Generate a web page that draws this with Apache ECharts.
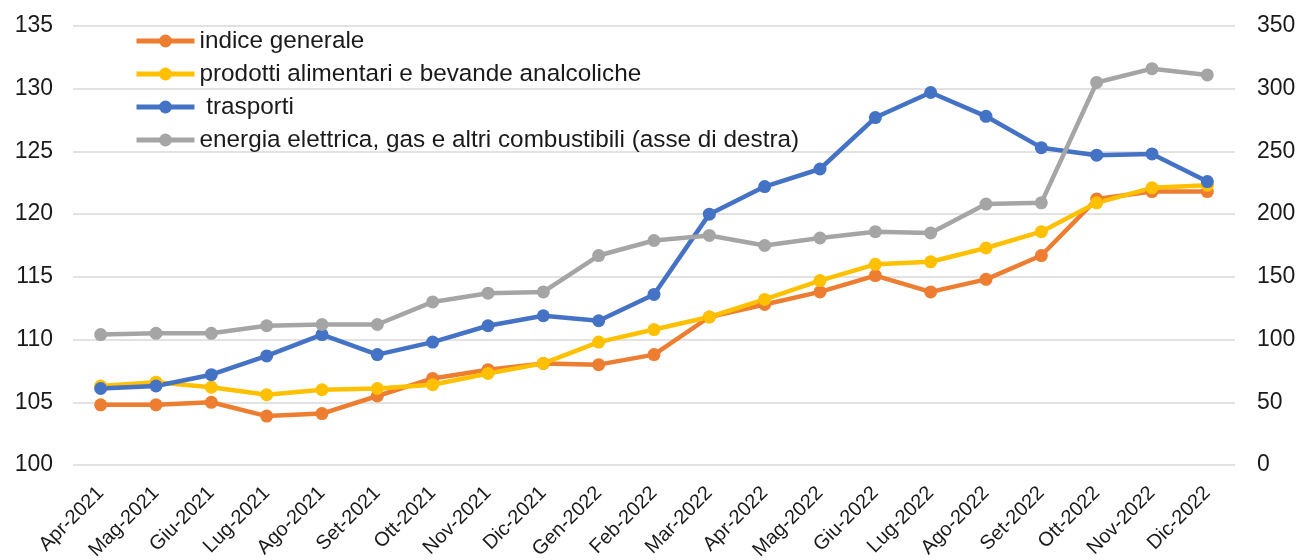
<!DOCTYPE html>
<html>
<head>
<meta charset="utf-8">
<script src="https://cdn.jsdelivr.net/npm/echarts@6/dist/echarts.min.js"></script>
<style>
  html, body { margin: 0; padding: 0; background: #fff; }
  #myChart { width: 1301px; height: 560px; }
</style>
</head>
<body>
<div id="myChart"></div>
<script>
// mesi (asse x)
const mesi = ['Apr-2021', 'Mag-2021', 'Giu-2021', 'Lug-2021', 'Ago-2021', 'Set-2021', 'Ott-2021',
  'Nov-2021', 'Dic-2021', 'Gen-2022', 'Feb-2022', 'Mar-2022', 'Apr-2022', 'Mag-2022', 'Giu-2022',
  'Lug-2022', 'Ago-2022', 'Set-2022', 'Ott-2022', 'Nov-2022', 'Dic-2022'];

// asse di sinistra
const indiceGenerale = [104.8, 104.8, 105.0, 103.9, 104.1, 105.5, 106.9, 107.6, 108.1, 108.0, 108.8,
  111.8, 112.8, 113.8, 115.1, 113.8, 114.8, 116.7, 121.2, 121.8, 121.8];
const alimentari = [106.3, 106.6, 106.2, 105.6, 106.0, 106.1, 106.4, 107.3, 108.1, 109.8, 110.8,
  111.8, 113.2, 114.7, 116.0, 116.2, 117.3, 118.6, 120.9, 122.1, 122.3];
const trasporti = [106.1, 106.3, 107.2, 108.7, 110.4, 108.8, 109.8, 111.1, 111.9, 111.5, 113.6,
  120.0, 122.2, 123.6, 127.7, 129.7, 127.8, 125.3, 124.7, 124.8, 122.6];
// asse di destra
const energia = [104, 105, 105, 111, 112, 112, 130, 137, 138, 167, 179,
  183, 175, 181, 186, 185, 208, 209, 305, 316, 311];

const leftTicks = { min: 100, max: 135, interval: 5 };
const rightTicks = { min: 0, max: 350, interval: 50 };

const FONT = '"Liberation Sans", Arial, sans-serif';
const TXT = '#1a1a1a';

function serie(name, data, color, yAxisIndex) {
  return {
    name: name,
    type: 'line',
    data: data,
    yAxisIndex: yAxisIndex,
    symbol: 'circle',
    symbolSize: 13,
    lineStyle: { width: 4.5, color: color },
    itemStyle: { color: color },
    emphasis: { disabled: true },
  };
}

let myChart = echarts.init(document.getElementById('myChart'));
let option = {
  animation: false,
  textStyle: { fontFamily: FONT },
  grid: { left: 73, right: 66, top: 26, bottom: 95, outerBoundsMode: 'none', containLabel: false },
  legend: {
    orient: 'vertical',
    left: 134,
    top: 29,
    padding: 0,
    itemWidth: 58,
    itemHeight: 16,
    itemGap: 9,
    lineStyle: { width: 5 },
    textStyle: { fontSize: 24.3, color: TXT, fontFamily: FONT },
    data: ['indice generale', 'prodotti alimentari e bevande analcoliche', ' trasporti',
      'energia elettrica, gas e altri combustibili (asse di destra)'],
  },
  xAxis: {
    type: 'category',
    data: mesi,
    boundaryGap: true,
    axisLine: { show: false },
    axisTick: { show: false },
    axisLabel: { rotate: 45, fontSize: 20, color: TXT, margin: 25, interval: 0 },
  },
  yAxis: [
    {
      type: 'value',
      ...leftTicks,
      axisLine: { show: false },
      axisTick: { show: false },
      axisLabel: { fontSize: 23, color: TXT, margin: 20 },
      splitLine: { lineStyle: { color: '#d9d9d9', width: 1.5 } },
    },
    {
      type: 'value',
      ...rightTicks,
      axisLine: { show: false },
      axisTick: { show: false },
      axisLabel: { fontSize: 23, color: TXT, margin: 22 },
      splitLine: { show: false },
    },
  ],
  series: [
    serie('indice generale', indiceGenerale, '#ED7D31', 0),
    serie('prodotti alimentari e bevande analcoliche', alimentari, '#FFC000', 0),
    serie(' trasporti', trasporti, '#4472C4', 0),
    serie('energia elettrica, gas e altri combustibili (asse di destra)', energia, '#A5A5A5', 1),
  ],
};
myChart.setOption(option);
</script>
</body>
</html>
